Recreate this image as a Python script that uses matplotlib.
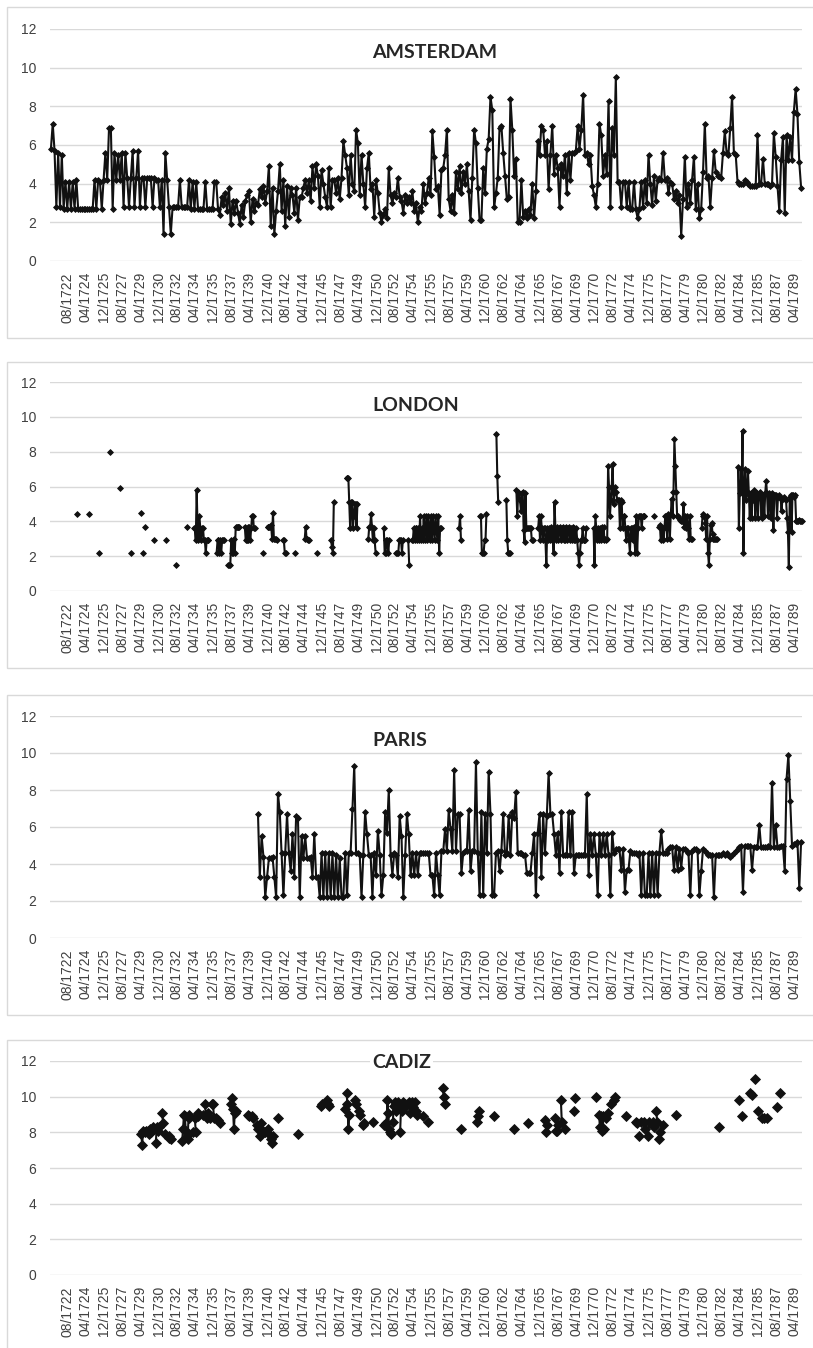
import numpy as np
import matplotlib
matplotlib.use("Agg")
import matplotlib.pyplot as plt
from matplotlib.patches import Rectangle

# ---------------- data ----------------
# month axis: monthly categories 01/1721 ... 12/1789 (index = months since 01/1721)
n_months = 69 * 12
tick_labels = ["08/1722", "04/1724", "12/1725", "08/1727", "04/1729", "12/1730", "08/1732",
               "04/1734", "12/1735", "08/1737", "04/1739", "12/1740", "08/1742", "04/1744",
               "12/1745", "08/1747", "04/1749", "12/1750", "08/1752", "04/1754", "12/1755",
               "08/1757", "04/1759", "12/1760", "08/1762", "04/1764", "12/1765", "08/1767",
               "04/1769", "12/1770", "08/1772", "04/1774", "12/1775", "08/1777", "04/1779",
               "12/1780", "08/1782", "04/1784", "12/1785", "08/1787", "04/1789"]

titles = ["AMSTERDAM", "LONDON", "PARIS", "CADIZ"]

# Amsterdam: one value per two months, from 01/1721 (six per year)
amsterdam_start = 0
amsterdam_values = [
    5.8, 7.1, 5.7, 2.8, 5.6, 2.8,   # 1721
    5.5, 2.7, 4.1, 2.7, 4.1, 2.7,   # 1722
    4.1, 2.7, 4.2, 2.7, 2.7, 2.7,   # 1723
    2.7, 2.7, 2.7, 2.7, 2.7, 2.7,   # 1724
    4.2, 2.7, 4.2, 4.1, 2.7, 4.2,   # 1725
    5.6, 4.2, 6.9, 6.9, 2.7, 5.6,   # 1726
    4.2, 5.5, 4.2, 5.6, 2.8, 5.6,   # 1727
    4.3, 2.8, 4.3, 5.7, 2.8, 4.3,   # 1728
    5.7, 2.8, 4.3, 4.3, 2.8, 4.3,   # 1729
    4.3, 4.3, 2.8, 4.3, 4.2, 4.2,   # 1730
    2.8, 4.2, 1.4, 5.6, 4.2, 2.8,   # 1731
    1.4, 2.8, 2.8, 2.8, 2.8, 4.2,   # 1732
    2.8, 2.8, 2.8, 2.8, 4.2, 2.7,   # 1733
    4.1, 2.7, 4.1, 2.7, 2.7, 2.7,   # 1734
    2.7, 4.1, 2.7, 2.7, 2.7, 2.7,   # 1735
    4.1, 4.1, 2.7, 2.4, 3.3, 2.9,   # 1736
    3.5, 2.6, 3.8, 1.9, 3.1, 2.5,   # 1737
    3.1, 2.5, 1.9, 2.9, 2.3, 3.1,   # 1738
    3.4, 3.6, 2.0, 3.2, 2.6, 3.0,   # 1739
    2.9, 3.7, 3.3, 3.9, 3.0, 3.6,   # 1740
    4.9, 1.8, 3.8, 1.4, 2.6, 3.6,   # 1741
    5.0, 2.6, 4.2, 1.8, 3.9, 2.3,   # 1742
    3.8, 3.4, 2.5, 3.8, 2.1, 3.3,   # 1743
    3.3, 3.8, 4.2, 3.5, 4.2, 3.1,   # 1744
    4.9, 3.8, 5.0, 4.4, 2.8, 4.7,   # 1745
    4.0, 3.3, 2.8, 4.8, 2.8, 4.2,   # 1746
    4.2, 3.5, 4.3, 3.2, 4.3, 6.2,   # 1747
    5.5, 4.8, 3.4, 5.5, 4.0, 3.6,   # 1748
    6.8, 6.1, 3.4, 5.5, 4.0, 2.8,   # 1749
    4.8, 5.6, 3.7, 4.0, 2.3, 4.2,   # 1750
    3.5, 2.5, 2.0, 2.4, 2.7, 2.2,   # 1751
    4.8, 3.4, 3.0, 3.5, 3.3, 4.3,   # 1752
    3.3, 3.1, 2.5, 3.4, 3.0, 3.3,   # 1753
    3.0, 3.6, 2.6, 3.0, 2.0, 2.8,   # 1754
    2.6, 4.0, 3.0, 3.5, 4.3, 3.4,   # 1755
    6.7, 5.4, 3.7, 3.9, 2.4, 4.7,   # 1756
    4.8, 5.5, 6.8, 3.2, 2.6, 3.4,   # 1757
    2.5, 4.6, 3.7, 4.9, 3.5, 4.6,   # 1758
    4.0, 5.0, 3.6, 2.1, 4.3, 6.8,   # 1759
    6.1, 3.8, 2.1, 2.1, 4.8, 3.5,   # 1760
    5.8, 6.3, 8.5, 7.8, 2.8, 3.5,   # 1761
    4.3, 6.9, 7.0, 5.6, 4.4, 3.2,   # 1762
    3.3, 8.4, 6.8, 4.4, 5.3, 2.0,   # 1763
    2.0, 4.2, 2.3, 2.6, 2.2, 2.7,   # 1764
    2.4, 4.0, 2.2, 3.6, 6.2, 5.5,   # 1765
    7.0, 6.8, 5.5, 6.2, 3.7, 5.5,   # 1766
    7.0, 4.5, 5.5, 4.8, 2.8, 5.0,   # 1767
    4.4, 5.5, 3.5, 5.6, 4.2, 5.6,   # 1768
    5.6, 5.7, 7.0, 5.8, 6.8, 8.6,   # 1769
    5.5, 5.6, 5.0, 5.5, 3.9, 3.4,   # 1770
    2.8, 4.0, 7.1, 6.5, 4.4, 5.5,   # 1771
    4.5, 8.3, 2.8, 6.9, 5.5, 9.5,   # 1772
    4.1, 4.1, 2.8, 4.1, 4.1, 2.8,   # 1773
    4.1, 2.7, 2.7, 4.1, 2.7, 2.2,   # 1774
    2.7, 4.1, 2.8, 4.2, 3.0, 5.5,   # 1775
    4.0, 2.9, 4.4, 3.1, 4.2, 4.3,   # 1776
    4.2, 5.6, 4.2, 4.3, 3.5, 4.1,   # 1777
    4.0, 3.2, 3.6, 3.0, 3.4, 1.3,   # 1778
    3.2, 5.4, 2.8, 4.0, 3.0, 4.2,   # 1779
    5.4, 2.7, 4.0, 2.2, 2.7, 4.6,   # 1780
    7.1, 4.3, 4.4, 2.8, 4.3, 5.7,   # 1781
    4.6, 4.4, 4.4, 4.3, 5.6, 6.7,   # 1782
    5.6, 5.5, 6.9, 8.5, 5.6, 5.5,   # 1783
    4.1, 4.0, 4.0, 4.0, 4.2, 4.1,   # 1784
    4.0, 3.9, 3.9, 3.9, 3.9, 6.5,   # 1785
    4.0, 4.0, 5.3, 4.0, 4.0, 4.0,   # 1786
    3.9, 4.0, 6.6, 5.4, 3.9, 2.6,   # 1787
    5.2, 6.4, 2.5, 6.5, 5.2, 6.4,   # 1788
    5.2, 7.7, 8.9, 7.6, 5.1, 3.8,   # 1789
]

# London: runs of consecutive months (start = months since 01/1721)
london_run_start = [29, 42, 53, 66, 77, 89, 100, 102, 104, 114, 127, 138, 150, 158, 183,
                    196, 214, 234, 239, 256, 269, 280, 294, 309, 326, 350, 367, 381, 394,
                    398, 450, 473, 491, 502, 513, 537, 598, 665, 670, 717, 757]
london_run_values = [
    [4.4], [4.4], [2.2], [8.0], [5.9], [2.2], [4.5], [2.2], [3.7], [2.9], [2.9], [1.5], [3.7],
    [3.6, 3.6, 2.9, 5.8, 3.6, 2.9, 4.3, 3.6, 2.9, 3.6, 3.6, 2.9, 2.9, 2.2, 2.9, 2.9, 2.9],
    [2.2, 2.9, 2.9, 2.2, 2.9, 2.2, 2.9, 2.9, 2.9],
    [1.5, 1.5, 1.5, 2.9, 2.2, 2.2, 3.0, 2.2, 3.7, 3.7, 3.7, 3.7, 3.7],
    [3.7, 2.9, 2.9, 3.7, 2.9, 3.7, 2.9, 3.6, 4.3, 4.3, 3.6, 3.6],
    [2.2],
    [3.7, 3.7, 3.7, 3.7, 3.8, 3.0, 4.5, 3.0, 3.0, 3.0, 2.9],
    [2.9, 2.9, 2.2, 2.2],
    [2.2],
    [3.0, 3.7, 3.0, 3.0, 2.9, 2.9],
    [2.2],
    [2.9, 2.5, 2.2, 5.1],
    [6.5, 6.5, 6.5, 5.1, 3.6, 5.1, 5.1, 3.6, 4.3, 5.0, 5.0, 3.6, 5.0],
    [3.0, 3.7, 3.7, 4.4, 3.7, 2.9, 3.6, 2.9, 2.2],
    [3.6, 2.2, 2.2, 2.9, 2.9, 2.2, 2.9],
    [2.2, 2.2, 2.2, 2.9, 2.9, 2.9, 2.2, 2.9],
    [2.9, 1.5],
    [2.9, 2.9, 3.6, 2.9, 3.6, 3.6, 2.9, 3.6, 2.9, 4.3, 2.9, 3.6, 2.9, 4.3, 2.9, 3.6, 4.3,
     2.9, 4.3, 3.6, 2.9, 4.3, 2.9, 4.3, 3.6, 2.9, 4.3, 3.6, 2.9, 4.3, 2.2, 3.6, 3.6],
    [3.6, 4.3, 2.9],
    [4.3, 4.3, 2.2, 2.2, 2.2, 2.9, 2.9, 4.4],
    [9.0, 6.6, 5.1],
    [5.2, 2.9, 2.2, 2.2, 2.2],
    [5.8, 4.3, 5.7, 5.6, 5.2, 4.6, 5.6, 5.7, 3.5, 2.8, 5.6, 3.6, 3.6, 3.6, 3.6, 3.6, 3.6,
     2.9, 2.9],
    [3.6, 4.3, 2.9, 4.3, 3.6, 2.9, 3.6, 3.6, 2.9, 1.5, 3.6, 2.9, 3.6, 2.9, 3.7, 2.9, 3.6,
     2.2, 5.1, 3.6, 2.9, 3.7, 2.9, 3.6, 3.7, 2.9, 3.6, 3.7, 2.9, 3.6, 2.9, 3.7, 2.9, 3.6,
     3.7, 2.9, 3.6, 2.9, 3.7, 2.9, 3.6, 2.9, 3.6, 2.9, 2.2, 1.5, 2.2, 2.9, 2.9, 3.6, 2.9,
     2.9, 2.9, 3.6],
    [3.6, 1.5, 4.3, 3.6, 2.9, 3.6, 2.9, 3.6, 2.9, 3.7, 3.0, 3.7, 2.9, 3.0, 2.9, 3.0, 7.2,
     6.0, 4.3, 5.2, 6.0, 7.3, 5.0, 5.6, 6.0, 5.7, 5.2, 5.2, 5.2, 3.6, 5.2, 5.1, 3.6, 4.3,
     4.3, 3.6, 2.9, 3.6, 3.6, 2.9, 2.2, 3.6, 3.6, 2.9, 3.7, 2.9, 2.2, 4.3, 2.2, 3.6, 4.3,
     4.3, 4.3, 3.6, 4.3, 4.3, 4.3],
    [4.3],
    [3.7, 3.8, 2.9, 3.0, 3.6, 2.9, 3.6, 4.3, 4.3, 3.0, 4.4, 4.3, 3.0, 4.4, 5.3, 4.3, 5.7,
     8.7, 7.2, 5.7, 4.3, 4.3, 4.2, 4.1, 4.0, 4.0, 4.0, 5.0, 3.7, 4.3, 3.6, 4.3, 3.6, 3.0,
     4.3, 3.0, 3.0],
    [3.6, 4.3, 4.4, 4.3, 3.9, 3.0, 4.3, 2.2, 1.5, 3.0, 3.8, 3.9, 3.3, 3.0, 3.0, 3.0, 3.0, 3.0],
    [7.1, 3.6, 5.6, 7.0, 5.6, 9.2, 2.2, 5.6, 7.0, 5.2, 5.6, 6.9, 5.6, 4.2, 5.6, 4.2, 5.6,
     5.2, 5.8, 4.2, 5.5, 5.6, 4.2, 5.5, 5.7, 5.3, 4.2, 5.5, 5.5, 4.3, 5.6, 6.3, 5.6, 4.3,
     5.6, 5.5, 4.2, 5.6, 5.5, 3.5, 5.5, 5.5, 5.5, 4.2, 5.4, 5.5, 5.4, 5.3, 4.6, 5.3, 5.3,
     5.4, 5.3, 5.2, 4.2, 3.4, 1.4, 5.4, 5.5, 3.4, 5.5, 5.5, 5.4, 5.5, 4.0, 4.0, 4.0, 4.1,
     4.0, 4.0, 4.0],
]

# Paris: one value per two months, from 01/1740
paris_start = 228
paris_values = [
    6.7, 3.3, 5.5, 4.4, 2.2, 3.3,   # 1740
    4.3, 4.3, 4.4, 3.3, 2.2, 7.8,   # 1741
    6.8, 4.6, 2.3, 4.6, 6.7, 4.6,   # 1742
    3.6, 5.6, 3.3, 6.6, 6.5, 2.2,   # 1743
    5.5, 4.3, 5.5, 4.3, 4.3, 4.4,   # 1744
    3.3, 5.6, 3.3, 3.3, 2.2, 4.6,   # 1745
    2.2, 4.6, 2.2, 4.6, 2.2, 4.6,   # 1746
    2.2, 4.5, 2.2, 4.3, 2.2, 2.2,   # 1747
    4.6, 2.3, 4.6, 4.6, 7.0, 9.3,   # 1748
    4.6, 4.6, 4.5, 2.2, 4.5, 6.8,   # 1749
    5.6, 4.5, 4.5, 2.2, 4.6, 3.4,   # 1750
    5.8, 4.5, 2.3, 3.4, 6.8, 5.7,   # 1751
    8.0, 4.5, 3.4, 4.6, 4.5, 3.3,   # 1752
    6.6, 5.5, 2.2, 4.5, 6.7, 5.6,   # 1753
    3.4, 4.6, 3.4, 4.6, 3.4, 4.6,   # 1754
    4.6, 4.6, 4.6, 4.6, 4.6, 3.4,   # 1755
    3.4, 2.3, 4.6, 3.4, 2.3, 4.7,   # 1756
    4.7, 5.9, 4.7, 6.9, 5.9, 4.7,   # 1757
    9.1, 4.7, 6.7, 6.7, 3.5, 4.6,   # 1758
    4.7, 4.7, 6.9, 3.6, 4.7, 4.7,   # 1759
    9.5, 4.6, 2.3, 6.8, 2.3, 6.7,   # 1760
    4.6, 9.0, 6.7, 2.3, 2.3, 4.6,   # 1761
    4.7, 3.6, 4.7, 6.7, 4.5, 4.6,   # 1762
    6.6, 4.5, 6.8, 6.5, 7.9, 4.6,   # 1763
    4.6, 4.6, 4.5, 4.5, 3.5, 3.5,   # 1764
    3.5, 4.6, 5.6, 2.3, 5.7, 6.7,   # 1765
    3.3, 6.7, 4.6, 6.6, 8.9, 6.7,   # 1766
    6.7, 5.6, 4.5, 5.7, 3.5, 6.8,   # 1767
    4.5, 4.5, 4.5, 6.8, 4.5, 6.8,   # 1768
    3.5, 4.5, 4.5, 4.5, 4.5, 4.5,   # 1769
    4.5, 7.8, 3.4, 5.6, 4.5, 5.6,   # 1770
    4.5, 2.3, 5.6, 4.5, 5.6, 4.5,   # 1771
    5.6, 4.5, 2.3, 5.7, 4.6, 4.8,   # 1772
    4.8, 4.8, 3.7, 4.8, 2.5, 3.7,   # 1773
    3.7, 4.7, 4.6, 4.6, 4.6, 4.5,   # 1774
    4.6, 2.3, 4.6, 2.3, 2.3, 4.6,   # 1775
    2.3, 4.6, 2.3, 4.6, 2.3, 4.6,   # 1776
    5.8, 4.6, 4.6, 4.6, 4.8, 4.9,   # 1777
    4.9, 3.7, 4.9, 3.7, 4.8, 3.8,   # 1778
    4.8, 4.8, 4.7, 4.6, 2.3, 4.7,   # 1779
    4.8, 4.8, 4.7, 2.3, 3.6, 4.8,   # 1780
    4.7, 4.6, 4.5, 4.5, 4.5, 2.2,   # 1781
    4.5, 4.5, 4.5, 4.5, 4.6, 4.5,   # 1782
    4.6, 4.5, 4.4, 4.5, 4.6, 4.7,   # 1783
    4.8, 4.9, 5.0, 2.5, 5.0, 5.0,   # 1784
    5.0, 5.0, 3.7, 4.9, 4.9, 4.9,   # 1785
    6.1, 4.9, 4.9, 4.9, 4.9, 5.0,   # 1786
    4.9, 8.4, 4.9, 6.1, 4.9, 4.9,   # 1787
    5.0, 5.0, 3.6, 8.6, 9.9, 7.4,   # 1788
    5.0, 5.1, 5.1, 5.2, 2.7, 5.2,   # 1789
]

# Cadiz: observations (months since 01/1721) and values
cadiz_month = [100, 101, 102, 104, 105, 107, 108, 110, 111, 113, 114, 116, 117, 118, 120,
               123, 124, 126, 130, 131, 133,
               145, 146, 147, 148, 149, 150, 151, 152, 153, 157, 159, 160, 162, 163,
               168, 170, 171, 172, 174, 176, 178, 179, 180, 182, 184, 187,
               199, 200, 201, 202, 203, 204,
               218, 219, 222, 223,
               227, 229, 231, 232, 234, 236, 239, 241, 243, 244, 245,
               250, 273,
               298, 299, 305, 306, 307,
               324, 326, 327, 328, 329, 335, 336, 340, 341, 344, 345, 355,
               367, 370, 371, 372, 373, 374, 375, 377, 378, 379, 380, 381, 383, 385, 386,
               387, 388, 390, 392, 395, 396, 398, 399, 401, 402, 404, 410, 416,
               432, 433, 434, 452, 470, 471, 472, 488, 510, 526,
               545, 546, 547, 556, 557, 558, 559, 562, 563, 566,
               576, 578,
               601, 604, 605, 606, 607, 608, 609, 612, 614, 617, 620, 622,
               634,
               645, 646, 648, 650, 654, 655, 658, 659, 663, 664, 667, 668, 670, 671, 674,
               689, 736,
               758, 761, 770, 772, 776, 779, 784, 786, 789, 800, 803]
cadiz_value = [7.9, 7.3, 8.1, 8.0, 8.1, 8.1, 7.9, 8.2, 8.0, 8.3, 8.2, 7.4, 8.3, 8.1, 8.3,
               9.1, 8.5, 7.9, 7.7, 7.8, 7.6,
               7.5, 8.2, 9.0, 8.9, 8.1, 7.8, 7.6, 8.8, 9.0, 8.0, 8.8, 8.0, 8.9, 9.1,
               9.0, 9.6, 9.0, 8.8, 9.1, 8.8, 9.6, 9.6, 8.8, 8.8, 8.7, 8.5,
               9.6, 9.9, 9.3, 8.2, 9.1, 9.2,
               9.0, 8.9, 8.9, 8.8,
               8.4, 8.2, 7.8, 8.5, 8.1, 8.0, 8.2, 7.9, 7.6, 7.4, 7.8,
               8.8, 7.9,
               9.5, 9.6, 9.8, 9.6, 9.5,
               9.3, 10.2, 9.6, 8.2, 9.0, 9.8, 9.6, 9.2, 9.0, 8.4, 8.5, 8.6,
               8.4, 8.5, 9.8, 9.1, 8.2, 8.0, 7.9, 8.6, 9.5, 9.7, 9.2, 9.6, 9.7, 8.0, 9.4,
               9.2, 9.7, 9.6, 9.5, 9.7, 9.1, 9.7, 9.4, 9.7, 9.2, 9.0, 8.9, 8.6,
               10.5, 10.0, 9.6, 8.2, 8.6, 8.9, 9.2, 8.9, 8.2, 8.5,
               8.7, 8.0, 8.4, 8.8, 8.1, 8.1, 8.4, 9.8, 8.6, 8.2,
               9.2, 9.9,
               10.0, 9.0, 8.3, 8.9, 8.1, 8.9, 8.2, 8.8, 9.1, 9.6, 9.8, 10.0,
               8.9,
               8.6, 8.5, 7.8, 8.6, 8.6, 8.2, 7.8, 8.6, 8.6, 8.3, 9.2, 8.6, 7.6, 8.0, 8.4,
               9.0, 8.3,
               9.8, 8.9, 10.2, 10.1, 11.0, 9.2, 8.8, 8.8, 8.8, 9.4, 10.2]


# ---------------- helpers ----------------
def label_to_month(lbl):
    mm, yyyy = lbl.split("/")
    return (int(yyyy) - 1721) * 12 + int(mm) - 1


def with_gaps(months, values):
    xs, ys = [], []
    prev = None
    for m, v in zip(months, values):
        if prev is not None and m - prev > 1:
            xs.append(np.nan)
            ys.append(np.nan)
        xs.append(m)
        ys.append(v)
        prev = m
    return np.array(xs, float), np.array(ys, float)


ams_x = amsterdam_start + 2 * np.arange(len(amsterdam_values)) + 0.5
ams_y = np.array(amsterdam_values)
par_x = paris_start + 2 * np.arange(len(paris_values)) + 0.5
par_y = np.array(paris_values)
lon_m, lon_v = [], []
for s, vals in zip(london_run_start, london_run_values):
    lon_m += list(range(s, s + len(vals)))
    lon_v += vals
lon_x, lon_y = with_gaps(lon_m, lon_v)
cad_x, cad_y = with_gaps(cadiz_month, cadiz_value)

series = [(ams_x, ams_y, 3.0), (lon_x, lon_y, 3.0), (par_x, par_y, 3.0), (cad_x, cad_y, 4.8)]

# ---------------- figure ----------------
W, H = 813, 1348
fig = plt.figure(figsize=(W / 100, H / 100), dpi=100)

plot_rows = [(29, 261), (382, 591), (716, 938), (1061, 1275)]   # y of 12 and 0 (px from top)
box_rows = [(7, 338), (362, 668), (695, 1015), (1040, 1370)]
title_y = [52, 405, 740, 1062]
x_left, x_right = 50, 802

tick_pos = [label_to_month(l) for l in tick_labels]
line_col = "#111111"
grid_col = "#d9d9d9"
text_col = "#404040"

for i, (title, (xs, ys, ms)) in enumerate(zip(titles, series)):
    bt, bb = box_rows[i]
    fig.add_artist(Rectangle((7 / W, 1 - bb / H), (830 - 7) / W, (bb - bt) / H,
                             transform=fig.transFigure, fill=False,
                             edgecolor=grid_col, linewidth=1.0))
    top, bot = plot_rows[i]
    ax = fig.add_axes([x_left / W, 1 - bot / H, (x_right - x_left) / W, (bot - top) / H])
    ax.set_xlim(-0.5, n_months - 0.5)
    ax.set_ylim(0, 12)
    ax.set_yticks(range(0, 13, 2))
    ax.yaxis.grid(True, color=grid_col, linewidth=1.0)
    ax.set_axisbelow(True)
    for sp in ax.spines.values():
        sp.set_visible(False)
    ax.set_xticks(tick_pos)
    ax.set_xticklabels(tick_labels, rotation=90, fontsize=10, color=text_col,
                       family="Liberation Sans")
    for t in ax.get_yticklabels():
        t.set_fontsize(10)
        t.set_color(text_col)
        t.set_family("Liberation Sans")
    ax.tick_params(axis="both", length=0)
    ax.tick_params(axis="y", pad=10)
    ax.tick_params(axis="x", pad=8)
    ax.set_facecolor("none")
    ax.plot(xs, ys, color=line_col, linewidth=1.5, marker="D", markersize=ms,
            markerfacecolor=line_col, markeredgecolor=line_col, markeredgewidth=0.6,
            clip_on=False)
    fig.text(372 / W, 1 - title_y[i] / H, title, ha="left", va="center",
             fontsize=14, fontweight="bold", family="Lato", color="#262626",
             bbox=dict(facecolor="white", edgecolor="none", pad=1.5), zorder=5)

fig.savefig("out.png", dpi=100, facecolor="white")
